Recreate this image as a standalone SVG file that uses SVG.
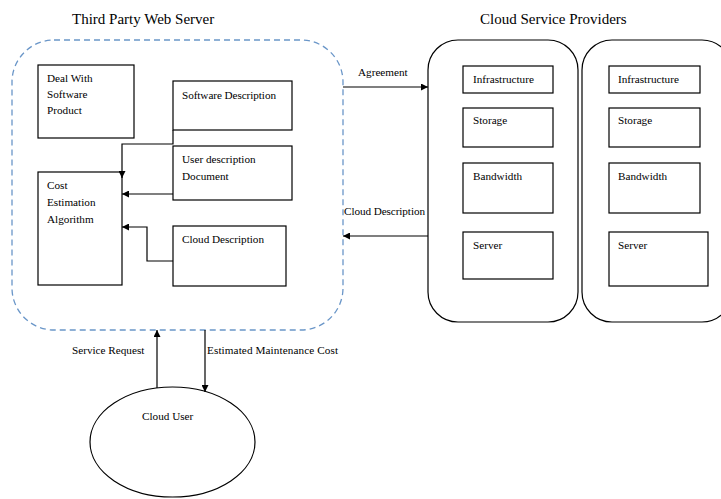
<svg xmlns="http://www.w3.org/2000/svg" width="721" height="499" viewBox="0 0 721 499">
<style>
text{font-family:"Liberation Serif","Times New Roman",serif;font-size:11.2px;fill:#000}
.t{font-size:15px}
.b{fill:#fff;stroke:#000;stroke-width:1.2}
.c{fill:none;stroke:#000;stroke-width:1.2}
</style>
<defs>
<marker id="ah" viewBox="0 0 10 10" refX="10" refY="5" markerWidth="7" markerHeight="7" orient="auto" markerUnits="userSpaceOnUse"><path d="M0,0L10,5L0,10z" fill="#000"/></marker>
</defs>
<rect width="721" height="499" fill="#fff"/>
<text class="t" x="72" y="24">Third Party Web Server</text>
<text class="t" x="480" y="24">Cloud Service Providers</text>
<g id="webserver"><rect x="12" y="40" width="331" height="290" rx="42" fill="none" stroke="#6a96c8" stroke-width="1.3" stroke-dasharray="6,4"/></g>
<g id="deal"><rect class="b" x="38" y="65" width="96" height="73"/><text x="47" y="82">Deal With</text><text x="47" y="98">Software</text><text x="47" y="114">Product</text></g>
<g id="cost"><rect class="b" x="38" y="172" width="84" height="113"/><text x="47" y="189">Cost</text><text x="47" y="206">Estimation</text><text x="47" y="223">Algorithm</text></g>
<g id="swdesc"><rect class="b" x="173" y="81" width="119" height="49"/><text x="182" y="99" textLength="94">Software Description</text></g>
<g id="userdesc"><rect class="b" x="173" y="146" width="119" height="54"/><text x="182" y="163">User description</text><text x="182" y="180">Document</text></g>
<g id="clouddesc"><rect class="b" x="173" y="226" width="113" height="60"/><text x="182" y="243" textLength="82">Cloud Description</text></g>
<g id="provider1"><rect class="b" x="428" y="40" width="150" height="282" rx="30"/>
<rect class="b" x="463" y="66" width="90" height="27"/><text x="473" y="83">Infrastructure</text>
<rect class="b" x="463" y="108" width="90" height="39"/><text x="473" y="124">Storage</text>
<rect class="b" x="463" y="163" width="90" height="50"/><text x="473" y="180">Bandwidth</text>
<rect class="b" x="463" y="232" width="90" height="47"/><text x="473" y="249">Server</text></g>
<g id="provider2"><rect class="b" x="582" y="40" width="150" height="282" rx="30"/>
<rect class="b" x="609" y="66" width="91" height="27"/><text x="618" y="83">Infrastructure</text>
<rect class="b" x="609" y="108" width="91" height="39"/><text x="618" y="124">Storage</text>
<rect class="b" x="609" y="163" width="91" height="50"/><text x="618" y="180">Bandwidth</text>
<rect class="b" x="609" y="232" width="99" height="54"/><text x="618" y="249">Server</text></g>
<g id="clouduser"><ellipse class="b" cx="172.5" cy="442" rx="82.5" ry="55"/><text x="142" y="420">Cloud User</text></g>
<g id="connectors">
<path class="c" d="M173,130V144H122V178" marker-end="url(#ah)"/>
<path class="c" d="M173,194H122" marker-end="url(#ah)"/>
<path class="c" d="M173,261H147V227H122" marker-end="url(#ah)"/>
<path class="c" d="M343,87H428" marker-end="url(#ah)"/>
<path class="c" d="M428,236H343" marker-end="url(#ah)"/>
<path class="c" d="M157,388V330" marker-end="url(#ah)"/>
<path class="c" d="M205,330V392" marker-end="url(#ah)"/>
<text x="358" y="76">Agreement</text>
<text x="344" y="215" textLength="81">Cloud Description</text>
<text x="72" y="354">Service Request</text>
<text x="207" y="354" textLength="131">Estimated Maintenance Cost</text>
</g>
</svg>
